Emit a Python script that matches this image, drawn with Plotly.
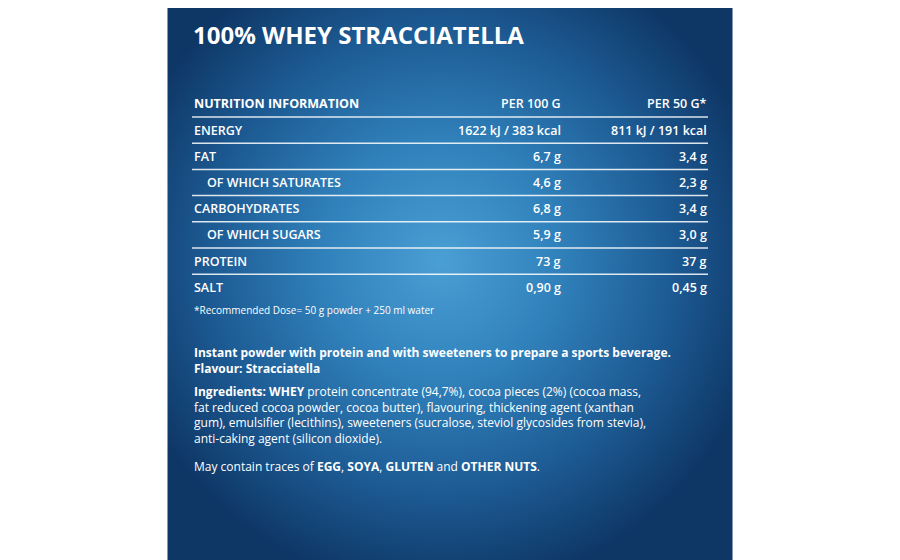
import numpy as np
import plotly.graph_objects as go

title = "100% WHEY STRACCIATELLA"
header = ["NUTRITION INFORMATION", "PER 100 G", "PER 50 G*"]
nutrients = ["ENERGY", "FAT", "OF WHICH SATURATES", "CARBOHYDRATES",
             "OF WHICH SUGARS", "PROTEIN", "SALT"]
indent = [False, False, True, False, True, False, False]
per_100g = ["1622 kJ / 383 kcal", "6,7 g", "4,6 g", "6,8 g", "5,9 g", "73 g", "0,90 g"]
per_50g = ["811 kJ / 191 kcal", "3,4 g", "2,3 g", "3,4 g", "3,0 g", "37 g", "0,45 g"]
footnote = "*Recommended Dose= 50 g powder + 250 ml water"
intro = ["<b>Instant powder with protein and with sweeteners to prepare a sports beverage.</b>",
         "<b>Flavour: Stracciatella</b>"]
ingredients = [
    "<b>Ingredients: WHEY</b> protein concentrate (94,7%), cocoa pieces (2%) (cocoa mass,",
    "fat reduced cocoa powder, cocoa butter), flavouring, thickening agent (xanthan",
    "gum), emulsifier (lecithins), sweeteners (sucralose, steviol glycosides from stevia),",
    "anti-caking agent (silicon dioxide).",
]
allergens = "May contain traces of <b>EGG</b>, <b>SOYA</b>, <b>GLUTEN</b> and <b>OTHER NUTS</b>."

FONT = "Open Sans"
fig = go.Figure()

# radial gradient background panel
gx = np.linspace(170, 730, 113)
gy = np.linspace(0, 560, 113)
X, Y = np.meshgrid(gx, gy)
d = np.sqrt(((X - 440) / 330) ** 2 + ((Y - 260) / 330) ** 2)
fig.add_trace(go.Heatmap(
    x=gx, y=gy, z=np.clip(d, 0, 1), showscale=False, hoverinfo="skip", zsmooth="best",
    colorscale=[[0, "#4a9fd4"], [0.35, "#3182bc"], [0.7, "#1d5b94"], [1, "#0e3766"]],
    zmin=0, zmax=1,
))

ann = []
def txt(x, y, s, size=12.5, anchor="left", weight=600, valign="middle"):
    ann.append(dict(x=x, y=y, text=s, showarrow=False, xanchor=anchor, yanchor=valign,
                    align="left",
                    font=dict(family=FONT, size=size, color="white", weight=weight)))

txt(191, 34, "<b>" + title + "</b>", size=24)
txt(192, 103, "<b>" + header[0] + "</b>", size=12.5)
txt(563, 103, header[1], anchor="right")
txt(709, 103, header[2], anchor="right")

shapes = []
for i, name in enumerate(nutrients):
    y = 130 + i * 26.2
    txt(205 if indent[i] else 192, y, name)
    txt(563, y, per_100g[i], anchor="right")
    txt(709, y, per_50g[i], anchor="right")
for i in range(len(nutrients)):
    ly = 117 + i * 26.2
    shapes.append(dict(type="line", x0=192, x1=708, y0=ly, y1=ly,
                       line=dict(color="rgba(255,255,255,0.85)", width=1.5)))

txt(192, 310, footnote, size=10, weight=400)
txt(192, 342, "<br>".join(intro), size=12, weight=400, valign="top")
txt(192, 381, "<br>".join(ingredients), size=12, weight=400, valign="top")
txt(192, 466, allergens, size=12, weight=400)

fig.update_layout(
    width=900, height=560, margin=dict(l=0, r=0, t=0, b=0),
    paper_bgcolor="white", plot_bgcolor="white",
    xaxis=dict(range=[8, 908], visible=False, fixedrange=True),
    yaxis=dict(range=[568, 8], visible=False, fixedrange=True),
    annotations=ann, shapes=shapes, showlegend=False,
)

fig.write_html("out.html")
